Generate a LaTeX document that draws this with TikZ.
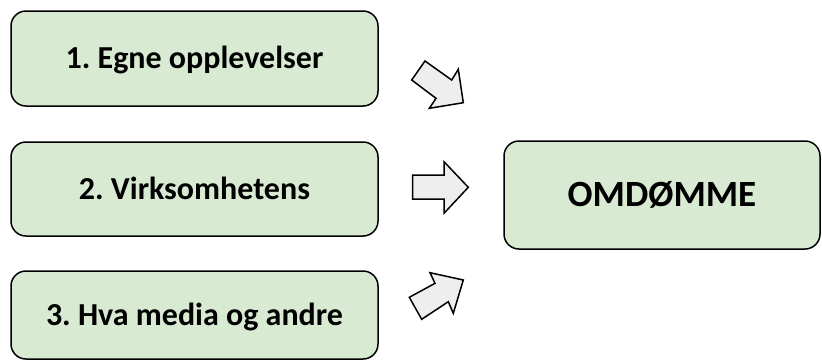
\documentclass[tikz,border=0pt]{standalone}
\usepackage{fontspec}
\setmainfont{Carlito}
\frenchspacing
\definecolor{boxgreen}{HTML}{D9EAD3}
\definecolor{arrowgray}{HTML}{EEEEEE}
\begin{document}
\begin{tikzpicture}[x=1pt,y=-1pt,
  srcbox/.style={draw=black, line width=1.5pt, fill=boxgreen, rounded corners=15pt,
    minimum width=367pt, inner sep=0pt, font=\bfseries\fontsize{32}{38}\selectfont,
    text height=20.3pt, text depth=0pt},
  bigbox/.style={srcbox, minimum width=316pt, minimum height=108pt,
    font=\bfseries\fontsize{37}{44}\selectfont, text height=23.7pt},
  blockarrow/.style={draw=black, line width=1.5pt, fill=arrowgray, line join=miter}]
\useasboundingbox (0,0) rectangle (822,360);
\node[srcbox, minimum height=95pt] (s1) at (194.5,58.5) {1. Egne opplevelser};
\node[srcbox, minimum height=94pt] (s2) at (194.5,189) {2. Virksomhetens};
\node[srcbox, minimum height=88pt] (s3) at (194.5,315) {3. Hva media og andre};
\node[bigbox] (om) at (662,195) {OMDØMME};
% block arrows
\draw[blockarrow] (425,61) -- (451.7,80) -- (458.3,69.3) -- (463.3,102.7)
  -- (429.3,108.3) -- (436,98.3) -- (411.7,80) -- cycle;
\draw[blockarrow] (412.7,175) -- (444,175) -- (444,161.7) -- (468.3,187.3)
  -- (444,213.3) -- (444,199) -- (412.7,199) -- cycle;
\draw[blockarrow] (409.3,297.3) -- (435,283.3) -- (430,272.7) -- (463.3,280)
  -- (453.3,313.3) -- (448.3,301.7) -- (421.7,319.3) -- cycle;
\end{tikzpicture}
\end{document}
